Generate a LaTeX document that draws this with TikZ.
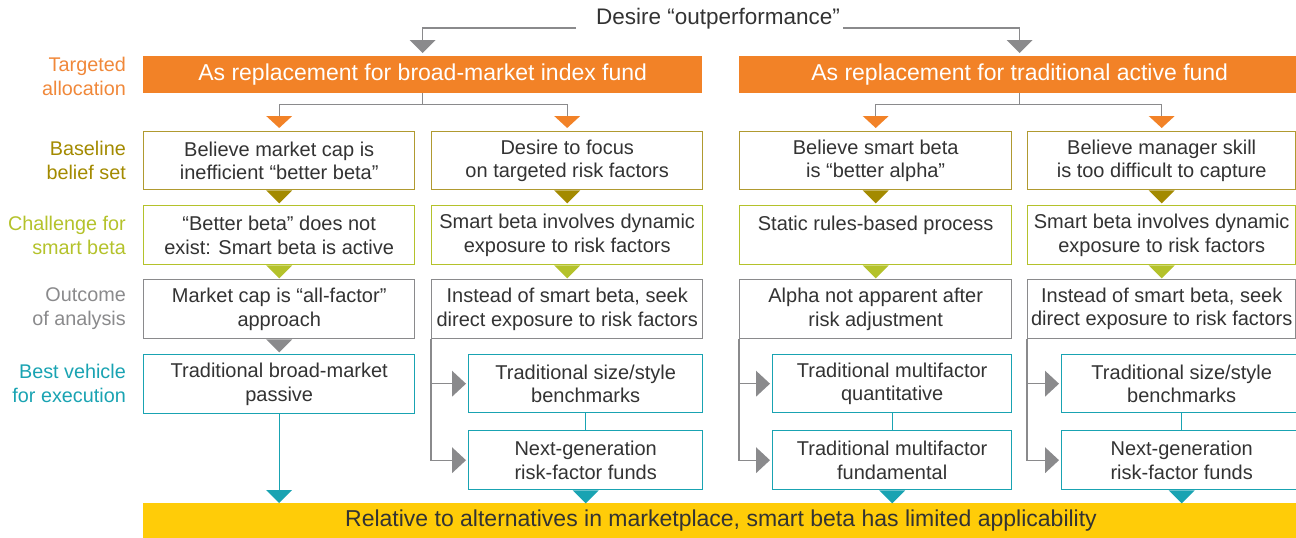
\documentclass[tikz,border=0pt]{standalone}
\usepackage{fontspec}
\setmainfont{Liberation Sans}
\usetikzlibrary{calc}
\definecolor{orangec}{HTML}{F28227}
\definecolor{orangel}{HTML}{F0883A}
\definecolor{olivec}{HTML}{A38A00}
\definecolor{olivel}{HTML}{B09A30}
\definecolor{limec}{HTML}{B4C22B}
\definecolor{grayc}{HTML}{8A8A8C}
\definecolor{tealc}{HTML}{19A3B2}
\definecolor{yellowc}{HTML}{FFCC08}
\definecolor{txt}{HTML}{333333}
\tikzset{
  box/.style={draw, line width=1.4pt, fill=white, inner sep=0pt, align=center, text=txt,
    font=\fontsize{20}{23.5}\selectfont, anchor=north west},
  bar/.style={fill=orangec, inner sep=0pt, align=center, text=white,
    font=\fontsize{23}{26}\selectfont, anchor=north west, minimum height=37pt},
  lab/.style={anchor=east, align=right, inner sep=0pt, font=\fontsize{19.8}{24}\selectfont},
  conn/.style={draw=grayc, line width=1.3pt},
  tconn/.style={draw=tealc, line width=1.3pt},
  dtri/.pic={\fill (-13,0) -- (13,0) -- (0,13) -- cycle;},
  otri/.pic={\fill (-13,0) -- (13,0) -- (0,12) -- cycle;},
  rtri/.pic={\fill (0,0) -- (-14,-13) -- (-14,13) -- cycle;},
}
\begin{document}
\begin{tikzpicture}[x=1pt,y=-1pt]
\clip (0,0) rectangle (1296,538);
\useasboundingbox (0,0) rectangle (1296,538);

% top
\node[text=txt, font=\fontsize{22.5}{26}\selectfont, inner sep=0pt] (top) at (718,19) {Desire “outperformance”};
\coordinate (tl) at (576,28);
\coordinate (tr) at (843,28);

% bars
\node[bar, minimum width=559pt] (bar1) at (143,56) {As replacement for broad-market index fund};
\node[bar, minimum width=561pt] (bar2) at (739,56) {As replacement for traditional active fund};

% labels
\node[lab, text=orangel] at (126,76) {Targeted\\allocation};
\node[lab, text=olivec] at (126,160) {Baseline\\belief set};
\node[lab, text=limec] at (126,235) {Challenge for\\smart beta};
\node[lab, text=grayc] at (126,309) {Outcome\\of analysis};
\node[lab, text=tealc] at (126,383) {Best vehicle\\for execution};

% row 1
\node[box, draw=olivel, minimum width=271pt, minimum height=58pt] (b1) at (143,131) {Believe market cap is\\inefficient “better beta”};
\node[box, draw=olivel, minimum width=271pt, minimum height=58pt] (b2) at (431,131) {Desire to focus\\on targeted risk factors};
\node[box, draw=olivel, minimum width=272pt, minimum height=58pt] (b3) at (739,131) {Believe smart beta\\is “better alpha”};
\node[box, draw=olivel, minimum width=268pt, minimum height=58pt] (b4) at (1027,131) {Believe manager skill\\is too difficult to capture};

% row 2
\node[box, draw=limec, minimum width=271pt, minimum height=59pt] (c1) at (143,205) {“Better beta” does not\\exist: Smart beta is active};
\node[box, draw=limec, minimum width=271pt, minimum height=59pt] (c2) at (431,205) {Smart beta involves dynamic\\exposure to risk factors};
\node[box, draw=limec, minimum width=272pt, minimum height=59pt] (c3) at (739,205) {Static rules-based process\\\mbox{}};
\node[box, draw=limec, minimum width=268pt, minimum height=59pt] (c4) at (1027,205) {Smart beta involves dynamic\\exposure to risk factors};

% row 3
\node[box, draw=grayc, minimum width=271pt, minimum height=59pt] (o1) at (143,279) {Market cap is “all-factor”\\approach};
\node[box, draw=grayc, minimum width=271pt, minimum height=59pt] (o2) at (431,279) {Instead of smart beta, seek\\direct exposure to risk factors};
\node[box, draw=grayc, minimum width=272pt, minimum height=59pt] (o3) at (739,279) {Alpha not apparent after\\risk adjustment};
\node[box, draw=grayc, minimum width=268pt, minimum height=59pt] (o4) at (1027,279) {\raisebox{2pt}{\begin{tabular}{@{}c@{}}Instead of smart beta, seek\\[-0.5pt]direct exposure to risk factors\end{tabular}}};

% row 4
\node[box, draw=tealc, minimum width=271pt, minimum height=59pt] (v1) at (143,354) {Traditional broad-market\\passive};
\node[box, draw=tealc, minimum width=234pt, minimum height=58pt] (v2a) at (468,354) {Traditional size/style\\benchmarks};
\node[box, draw=tealc, minimum width=234pt, minimum height=59pt] (v2b) at (468,430) {Next-generation\\risk-factor funds};
\node[box, draw=tealc, minimum width=239pt, minimum height=58pt] (v3a) at (772,354) {Traditional multifactor\\quantitative};
\node[box, draw=tealc, minimum width=239pt, minimum height=59pt] (v3b) at (772,430) {Traditional multifactor\\fundamental};
\node[box, draw=tealc, minimum width=240pt, minimum height=58pt] (v4a) at (1061,354) {Traditional size/style\\benchmarks};
\node[box, draw=tealc, minimum width=240pt, minimum height=59pt] (v4b) at (1061,430) {Next-generation\\risk-factor funds};

% yellow bar
\node[anchor=north west, fill=yellowc, inner sep=0pt, minimum width=1160pt, minimum height=40pt] (yb) at (143,503) {};
\node[text=txt, font=\fontsize{23}{25}\selectfont, inner sep=0pt] at (721,521) {Relative to alternatives in marketplace, smart beta has limited applicability};

% top connectors
\draw[conn] (tl) -| ([yshift=16pt]bar1.north);
\draw[conn] (tr) -| ([yshift=16pt]bar2.north);
\pic[color=grayc] at ([yshift=16pt]bar1.north) {dtri};
\pic[color=grayc] at ([yshift=16pt]bar2.north) {dtri};

% bar branches
\draw[conn] (bar1.south) -- ++(0,11) coordinate (j1);
\draw[conn] ([yshift=15pt]b1.north) |- (j1) -| ([yshift=15pt]b2.north);
\draw[conn] (bar2.south) -- ++(0,11) coordinate (j2);
\draw[conn] ([yshift=15pt]b3.north) |- (j2) -| ([yshift=15pt]b4.north);
\foreach \n in {b1,b2,b3,b4} {\pic[color=orangec] at ([yshift=15pt]\n.north) {otri};}

% row triangles
\foreach \n in {b1,b2,b3,b4} {\pic[color=olivec] at (\n.south) {dtri};}
\foreach \n in {c1,c2,c3,c4} {\pic[color=limec] at (\n.south) {dtri};}
\pic[color=grayc] at (o1.south) {dtri};

% branches to vehicles
\draw[conn] (o2.south west) |- ([xshift=-16pt]v2b.west);
\draw[conn] (o2.south west |- v2a.west) -- ([xshift=-16pt]v2a.west);
\pic[color=grayc] at ([xshift=-2pt]v2a.west) {rtri};
\pic[color=grayc] at ([xshift=-2pt]v2b.west) {rtri};
\draw[conn] (o3.south west) |- ([xshift=-16pt]v3b.west);
\draw[conn] (o3.south west |- v3a.west) -- ([xshift=-16pt]v3a.west);
\pic[color=grayc] at ([xshift=-2pt]v3a.west) {rtri};
\pic[color=grayc] at ([xshift=-2pt]v3b.west) {rtri};
\draw[conn] (o4.south west) |- ([xshift=-16pt]v4b.west);
\draw[conn] (o4.south west |- v4a.west) -- ([xshift=-16pt]v4a.west);
\pic[color=grayc] at ([xshift=-2pt]v4a.west) {rtri};
\pic[color=grayc] at ([xshift=-2pt]v4b.west) {rtri};

% teal connectors
\draw[tconn] (v2a.south) -- (v2b.north);
\draw[tconn] (v3a.south) -- (v3b.north);
\draw[tconn] (v4a.south) -- (v4b.north);
\draw[tconn] (v1.south) -- ($(v1.south |- yb.north)+(0,-13)$);
\pic[color=tealc] at ($(v1.south |- yb.north)+(0,-13)$) {dtri};
\foreach \n in {v2b,v3b,v4b} {\pic[color=tealc] at (\n.south) {dtri};}
\end{tikzpicture}
\end{document}
